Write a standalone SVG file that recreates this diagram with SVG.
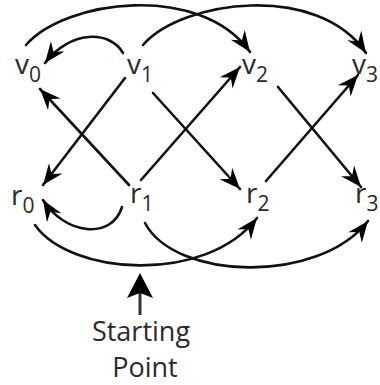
<svg xmlns="http://www.w3.org/2000/svg" width="380" height="385" viewBox="0 0 380 385">
<style>
.lbl{font-family:"Open Sans","Liberation Sans",sans-serif;font-size:28px;fill:#2a2a2a}
.sub{font-size:21px}
.cap{font-family:"Open Sans","Liberation Sans",sans-serif;font-size:27px;fill:#2a2a2a;text-anchor:middle}
.e{fill:none;stroke:#111;stroke-width:2.6;stroke-linecap:round}
</style>
<defs>
<marker id="ah" markerUnits="userSpaceOnUse" markerWidth="24" markerHeight="20" viewBox="-22 -10 24 20" refX="0" refY="0" orient="auto">
<path d="M0,0 L-21,-8.5 L-14,0 L-21,8.5 Z" fill="#000"/>
</marker>
</defs>
<rect width="380" height="385" fill="#fff"/>
<g id="connectors">
<path class="e" d="M125,78 L43,185" marker-end="url(#ah)"/>
<path class="e" d="M129,185 L40,89" marker-end="url(#ah)"/>
<path class="e" d="M153,93 L240,189" marker-end="url(#ah)"/>
<path class="e" d="M141,180 L240,67" marker-end="url(#ah)"/>
<path class="e" d="M278,87 L361,187" marker-end="url(#ah)"/>
<path class="e" d="M266,181 L358,75" marker-end="url(#ah)"/>
<path class="e" d="M123,53 C110,30 70,30 45,63" marker-end="url(#ah)"/>
<path class="e" d="M26,45 C65,0 200,-18 250,52" marker-end="url(#ah)"/>
<path class="e" d="M143,45 C182,0 318,-18 366,53" marker-end="url(#ah)"/>
<path class="e" d="M122,207 C112,240 65,235 43,200" marker-end="url(#ah)"/>
<path class="e" d="M35,225 C70,275 205,285 257,218" marker-end="url(#ah)"/>
<path class="e" d="M145,223 C175,280 318,285 368,221" marker-end="url(#ah)"/>
</g>
<g id="v0"><text class="lbl" x="15" y="74">v<tspan class="sub" dy="8">0</tspan></text></g>
<g id="v1"><text class="lbl" x="127" y="74">v<tspan class="sub" dy="8">1</tspan></text></g>
<g id="v2"><text class="lbl" x="242" y="74">v<tspan class="sub" dy="8">2</tspan></text></g>
<g id="v3"><text class="lbl" x="352" y="74">v<tspan class="sub" dy="8">3</tspan></text></g>
<g id="r0"><text class="lbl" x="11" y="205">r<tspan class="sub" dy="8">0</tspan></text></g>
<g id="r1"><text class="lbl" x="130" y="203">r<tspan class="sub" dy="8">1</tspan></text></g>
<g id="r2"><text class="lbl" x="246" y="203">r<tspan class="sub" dy="8">2</tspan></text></g>
<g id="r3"><text class="lbl" x="355" y="203">r<tspan class="sub" dy="8">3</tspan></text></g>
<g id="start">
<line x1="140" y1="315" x2="140" y2="290" stroke="#333" stroke-width="3"/>
<path d="M140,273 L153,298 L140,293 L127,298 Z" fill="#000"/>
<text class="cap" x="141" y="341">Starting</text>
<text class="cap" x="145" y="377">Point</text>
</g>
</svg>
